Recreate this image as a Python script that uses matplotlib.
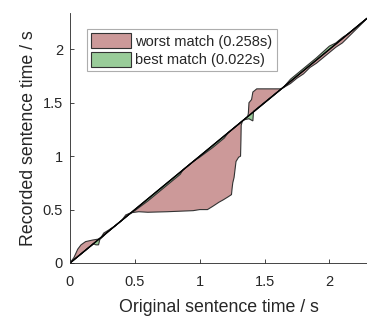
import matplotlib
matplotlib.use("Agg")
import matplotlib.pyplot as plt
import numpy as np

# Worst-match alignment path (original time, recorded time) in seconds
worst_x = [0.00, 0.03, 0.06, 0.085, 0.12, 0.175, 0.225, 0.24, 0.26, 0.30, 0.35,
           0.40, 0.43, 0.47, 0.53, 0.60, 0.75, 0.95, 1.00, 1.06, 1.10, 1.15,
           1.18, 1.22, 1.245, 1.25, 1.255, 1.265, 1.27, 1.28, 1.30, 1.315,
           1.318, 1.32, 1.33, 1.37, 1.375, 1.38, 1.40, 1.41, 1.44, 1.63,
           1.70, 1.75, 1.80, 1.85, 1.90, 1.95, 2.00, 2.05, 2.10, 2.15, 2.20,
           2.25, 2.29]
worst_y = [0.00, 0.05, 0.13, 0.17, 0.20, 0.215, 0.225, 0.24, 0.28, 0.31, 0.35,
           0.40, 0.45, 0.47, 0.48, 0.475, 0.48, 0.49, 0.50, 0.50, 0.53, 0.57,
           0.59, 0.62, 0.64, 0.70, 0.75, 0.80, 0.85, 0.95, 0.99, 1.00,
           1.15, 1.29, 1.33, 1.37, 1.40, 1.50, 1.53, 1.60, 1.63, 1.63,
           1.68, 1.73, 1.77, 1.83, 1.87, 1.92, 1.97, 2.02, 2.06, 2.12, 2.18,
           2.24, 2.29]

# Best-match alignment path
best_x = [0.00, 0.18, 0.20, 0.22, 0.23, 0.30, 0.45, 0.50, 0.60, 0.70, 0.80,
          0.85, 0.87, 0.95, 1.00, 1.10, 1.19, 1.22, 1.34, 1.38, 1.41, 1.415,
          1.65, 1.70, 1.80, 1.90, 2.00, 2.05, 2.10, 2.15, 2.29]
best_y = [0.00, 0.18, 0.17, 0.17, 0.22, 0.30, 0.45, 0.49, 0.58, 0.68, 0.78,
          0.83, 0.87, 0.95, 0.99, 1.08, 1.17, 1.22, 1.34, 1.35, 1.33, 1.42,
          1.65, 1.72, 1.82, 1.92, 2.03, 2.06, 2.11, 2.15, 2.29]

labels = ["worst match (0.258s)", "best match (0.022s)"]
x_max = 2.29
y_max = 2.34
xticks = [0, 0.5, 1, 1.5, 2]
yticks = [0, 0.5, 1, 1.5, 2]
ticklabels = ['0', '0.5', '1', '1.5', '2']

plt.rcParams['font.family'] = ['Liberation Sans', 'DejaVu Sans']

fig = plt.figure(figsize=(3.67, 3.16), dpi=100)
ax = fig.add_axes([70/367, 53/316, 297/367, 250/316])

gray = '#262626'
ax.fill(worst_x, worst_y, facecolor='#CC9999', edgecolor='#333333',
        linewidth=0.8, label=labels[0])
ax.fill(best_x, best_y, facecolor='#99CC99', edgecolor='#333333',
        linewidth=0.8, label=labels[1])
ax.plot([0, x_max], [0, x_max], color='black', linewidth=1.0)

ax.set_xlim(0, x_max)
ax.set_ylim(0, y_max)
ax.set_xticks(xticks)
ax.set_xticklabels(ticklabels)
ax.set_yticks(yticks)
ax.set_yticklabels(ticklabels)
ax.tick_params(axis='x', direction='in', length=3, width=0.6, colors=gray,
               labelsize=10.5, pad=9)
ax.tick_params(axis='y', direction='in', length=3, width=0.6, colors=gray,
               labelsize=10.5, pad=5)
for s in ['top', 'right']:
    ax.spines[s].set_visible(False)
for s in ['left', 'bottom']:
    ax.spines[s].set_color(gray)
    ax.spines[s].set_linewidth(0.6)

ax.set_xlabel('Original sentence time / s', fontsize=12.8, color=gray, labelpad=6.5)
ax.set_ylabel('Recorded sentence time / s', fontsize=12.8, color=gray, labelpad=4)

leg = ax.legend(loc='upper left', bbox_to_anchor=(0.057, 0.936), fontsize=10.5,
                frameon=True, fancybox=False, borderpad=0.3, handlelength=2.7,
                handleheight=1.2, handletextpad=0.3, labelspacing=0.2,
                borderaxespad=0)
leg.get_frame().set_edgecolor('#999999')
leg.get_frame().set_linewidth(0.8)
for t in leg.get_texts():
    t.set_color(gray)

fig.savefig('out.png', dpi=100)
